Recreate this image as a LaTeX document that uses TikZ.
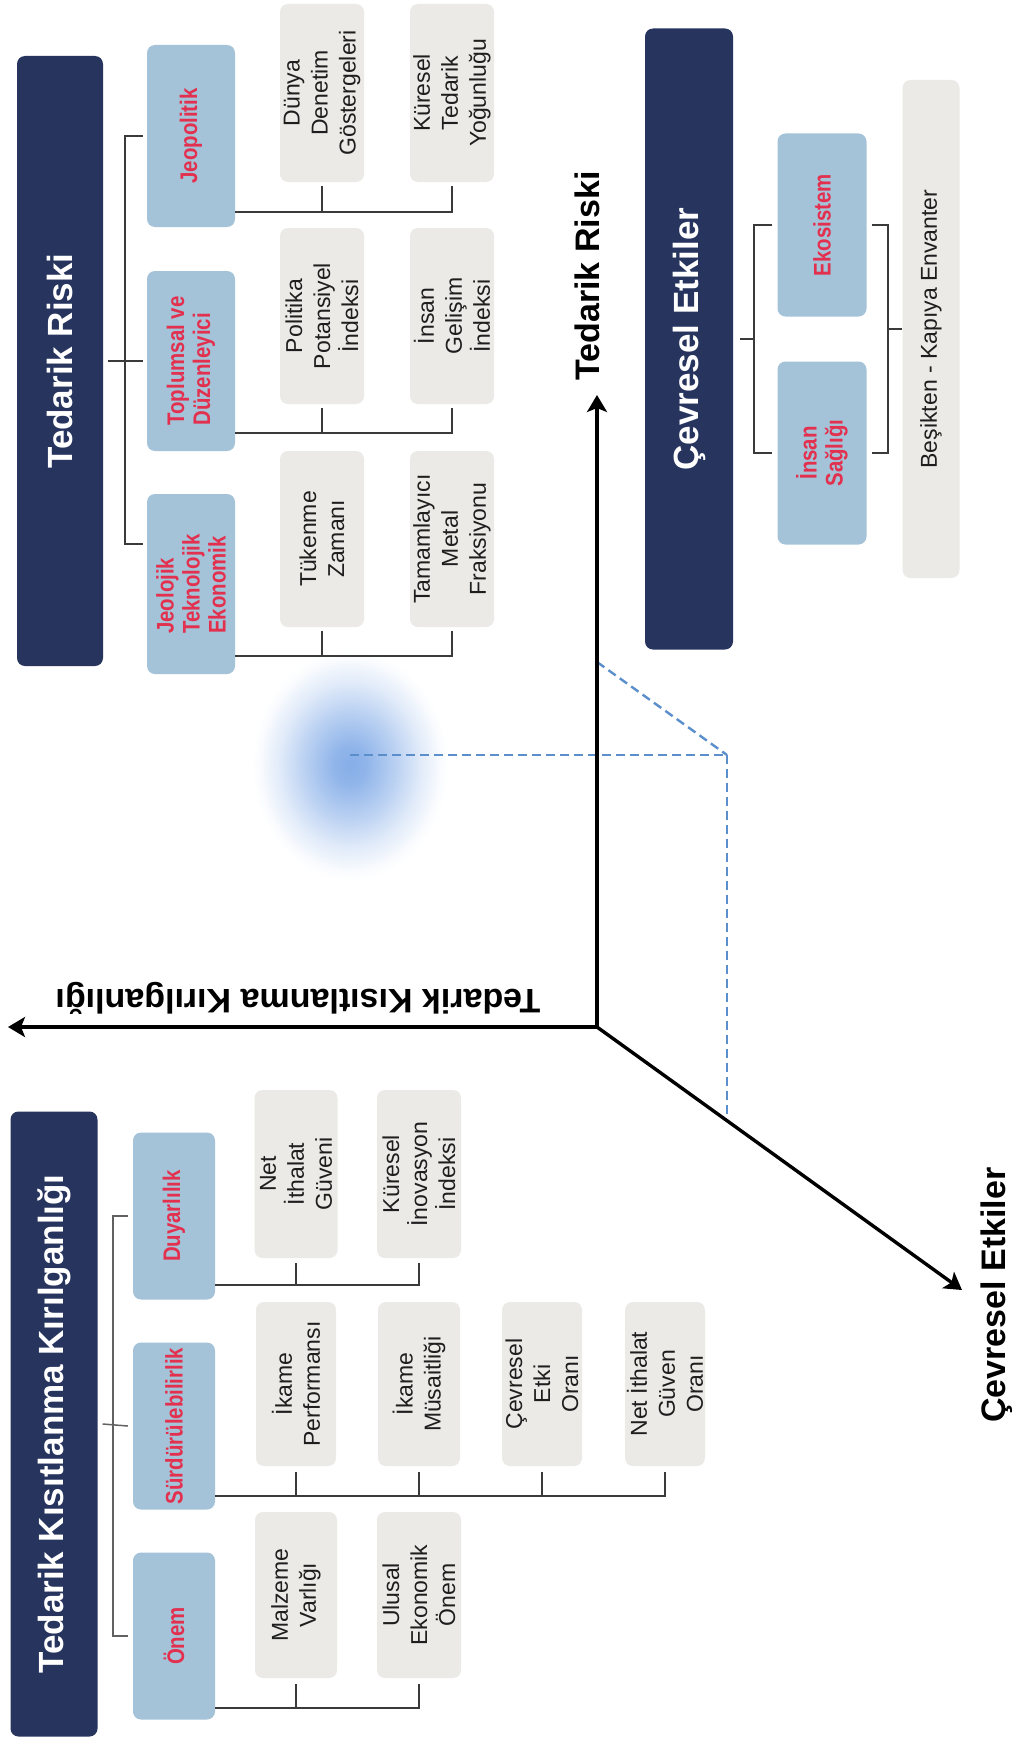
\documentclass[tikz,border=0pt]{standalone}
\usepackage{fontspec}
\setmainfont{Liberation Sans}
\newfontfamily\narrowf[FakeStretch=0.85]{Liberation Sans}
\usetikzlibrary{arrows.meta,calc}
\definecolor{navy}{HTML}{26345E}
\definecolor{lblue}{HTML}{A5C3D8}
\definecolor{lgray}{HTML}{EBEAE7}
\definecolor{crim}{HTML}{E2304E}
\definecolor{txt}{HTML}{1E1E1E}
\definecolor{dashc}{HTML}{5B8FCB}
\definecolor{glowc}{HTML}{86AEE8}
\definecolor{connc}{HTML}{3A3A3A}
\pgfdeclareradialshading{glowshade}{\pgfpoint{0bp}{0bp}}{color(0bp)=(glowc); color(4bp)=(glowc!92!white); color(11bp)=(glowc!60!white); color(18bp)=(glowc!25!white); color(23bp)=(glowc!5!white); color(25bp)=(white); color(50bp)=(white)}
\tikzset{
  box/.style={rotate=90, rounded corners=8pt, inner sep=0pt, align=center},
  darkbox/.style={box, fill=navy, text=white, font=\bfseries\fontsize{35}{40}\selectfont},
  bluebox/.style={box, fill=lblue, text=crim, font=\narrowf\bfseries\fontsize{24}{26}\selectfont},
  graybox/.style={box, fill=lgray, text=txt, font=\fontsize{23}{28}\selectfont},
  axlabel/.style={font=\bfseries\fontsize{34}{40}\selectfont, text=black, inner sep=0pt},
  conn/.style={draw=connc, line width=1.8pt},
  connl/.style={draw=connc!80!white, line width=1.5pt},
  axis/.style={line width=3.4pt, -{Stealth[length=17pt,width=20pt,inset=4pt]}},
  dashln/.style={draw=dashc, line width=2.4pt, dash pattern=on 9pt off 5pt}
}
\begin{document}
\begin{tikzpicture}[x=1pt,y=-1pt]
\useasboundingbox (0,0) rectangle (1024,1742);
\fill[white] (0,0) rectangle (1024,1742);

% ---------- glow and dashed projection ----------
\coordinate (P) at (350,755);
\shade[shading=glowshade] (350,765) ellipse [x radius=98pt, y radius=115pt];
\coordinate (C) at (727,755);
\coordinate (O) at (597,1027);
\coordinate (yt) at (597,395);
\coordinate (xt) at (8,1027);
\coordinate (zt) at (962,1290);
\coordinate (ya) at (597,662);
\coordinate (za) at (727,1121);
\draw[dashln] (P) -- (C);
\draw[dashln] (ya) -- (C);
\draw[dashln] (C) -- (za);

% ---------- axes ----------
\draw[axis] (O) -- (yt);
\draw[axis] (O) -- (xt);
\draw[axis] (O) -- (zt);
\node[axlabel, rotate=90] (lTR) at (587,276) {Tedarik Riski};
\node[axlabel, rotate=180] (lTK) at (298,998) {Tedarik Kısıtlanma Kırılganlığı};
\node[axlabel, rotate=90] (lCE) at (997,1295) {Çevresel Etkiler};

% ---------- Tedarik Riski tree ----------
\node[darkbox, minimum width=610pt, minimum height=86pt] (trd) at (60,361) {Tedarik Riski};
\node[bluebox, minimum width=182pt, minimum height=88pt] (jeo) at (191,136) {Jeopolitik};
\node[bluebox, minimum width=180pt, minimum height=88pt, align=left] (top) at (191,361) {Toplumsal ve\\Düzenleyici};
\node[bluebox, minimum width=180pt, minimum height=88pt, align=left] (jeol) at (191,584) {Jeolojik\\Teknolojik\\Ekonomik};

\node[graybox, minimum width=178pt, minimum height=84pt] (dun) at (322,93) {Dünya\\Denetim\\Göstergeleri};
\node[graybox, minimum width=178pt, minimum height=84pt] (kur) at (452,93) {Küresel\\Tedarik\\Yoğunluğu};
\node[graybox, minimum width=176pt, minimum height=84pt] (pol) at (322,316) {Politika\\Potansiyel\\İndeksi};
\node[graybox, minimum width=176pt, minimum height=84pt] (ins) at (452,316) {İnsan\\Gelişim\\İndeksi};
\node[graybox, minimum width=176pt, minimum height=84pt] (tuk) at (322,539) {Tükenme\\Zamanı};
\node[graybox, minimum width=176pt, minimum height=84pt] (tam) at (452,539) {Tamamlayıcı\\Metal\\Fraksiyonu};

\draw[conn] ([xshift=-4pt]jeo.north) -| ($(jeol.north)+(-22,-40)$) -- ($(jeol.north)+(-4,-40)$);
\draw[conn] ([xshift=5pt]trd.south) -- ([xshift=-4pt]top.north);

\coordinate (r1) at (0,212);
\coordinate (r2) at (0,433);
\coordinate (r3) at (0,656);
\draw[conn] (jeo.south |- r1) -- (kur.west |- r1) -- ([yshift=-4pt]kur.west);
\draw[conn] (dun.west |- r1) -- ([yshift=-4pt]dun.west);
\draw[conn] (top.south |- r2) -- (ins.west |- r2) -- ([yshift=-4pt]ins.west);
\draw[conn] (pol.west |- r2) -- ([yshift=-4pt]pol.west);
\draw[conn] (jeol.south |- r3) -- (tam.west |- r3) -- ([yshift=-4pt]tam.west);
\draw[conn] (tuk.west |- r3) -- ([yshift=-4pt]tuk.west);

% ---------- Cevresel Etkiler ----------
\node[darkbox, minimum width=621pt, minimum height=88pt] (ced) at (689,339) {Çevresel Etkiler};
\node[bluebox, minimum width=183pt, minimum height=89pt] (eko) at (822,225) {Ekosistem};
\node[bluebox, minimum width=183pt, minimum height=89pt] (isag) at (822,453) {İnsan\\Sağlığı};
\node[graybox, minimum width=498pt, minimum height=57pt] (bes) at (931,329) {Beşikten - Kapıya Envanter};

\draw[conn] ([xshift=-5pt]eko.north) -| ($(isag.north)+(-23,0)$) -- ([xshift=-5pt]isag.north);
\draw[conn] ([xshift=7pt]ced.south) -- ++(15,0);
\draw[conn] ([xshift=5pt]eko.south) -| ($(isag.south)+(21,0)$) -- ([xshift=5pt]isag.south);
\draw[conn] ($(bes.north)+(-15,0)$) -- (bes.north);

% ---------- Tedarik Kisitlanma Kirilganligi ----------
\node[darkbox, minimum width=625pt, minimum height=87pt] (tkd) at (54,1424) {Tedarik Kısıtlanma Kırılganlığı};
\node[bluebox, minimum width=167pt, minimum height=82pt] (duy) at (174,1216) {Duyarlılık};
\node[bluebox, minimum width=167pt, minimum height=82pt] (sur) at (174,1426) {Sürdürülebilirlik};
\node[bluebox, minimum width=167pt, minimum height=82pt] (onem) at (174,1636) {Önem};

\node[graybox, minimum width=168pt, minimum height=83pt] (net) at (296,1174) {Net\\İthalat\\Güveni};
\node[graybox, minimum width=168pt, minimum height=84pt] (kin) at (419,1174) {Küresel\\İnovasyon\\İndeksi};
\node[graybox, minimum width=164pt, minimum height=80pt] (ikp) at (296,1384) {İkame\\Performansı};
\node[graybox, minimum width=164pt, minimum height=82pt] (ikm) at (419,1384) {İkame\\Müsaitliği};
\node[graybox, minimum width=164pt, minimum height=80pt] (cev) at (542,1384) {Çevresel\\Etki\\Oranı};
\node[graybox, minimum width=164pt, minimum height=80pt] (nigo) at (665,1384) {Net İthalat\\Güven\\Oranı};
\node[graybox, minimum width=166pt, minimum height=82pt] (mal) at (296,1595) {Malzeme\\Varlığı};
\node[graybox, minimum width=166pt, minimum height=84pt] (ulu) at (419,1595) {Ulusal\\Ekonomik\\Önem};

\draw[connl] ([xshift=-5pt]duy.north) -| ($(onem.north)+(-20,0)$) -- ([xshift=-5pt]onem.north);
\draw[connl] ([xshift=5pt]tkd.south) -- ([xshift=-5pt]sur.north);

\coordinate (b1) at (0,1285);
\coordinate (b2) at (0,1496);
\coordinate (b3) at (0,1708);
\draw[conn] (duy.south |- b1) -- (kin.west |- b1) -- ([yshift=-5pt]kin.west);
\draw[conn] (net.west |- b1) -- ([yshift=-5pt]net.west);
\draw[conn] (sur.south |- b2) -- (nigo.west |- b2) -- ([yshift=-6pt]nigo.west);
\draw[conn] (ikp.west |- b2) -- ([yshift=-6pt]ikp.west);
\draw[conn] (ikm.west |- b2) -- ([yshift=-6pt]ikm.west);
\draw[conn] (cev.west |- b2) -- ([yshift=-6pt]cev.west);
\draw[conn] (onem.south |- b3) -- (ulu.west |- b3) -- ([yshift=-6pt]ulu.west);
\draw[conn] (mal.west |- b3) -- ([yshift=-6pt]mal.west);
\end{tikzpicture}
\end{document}
